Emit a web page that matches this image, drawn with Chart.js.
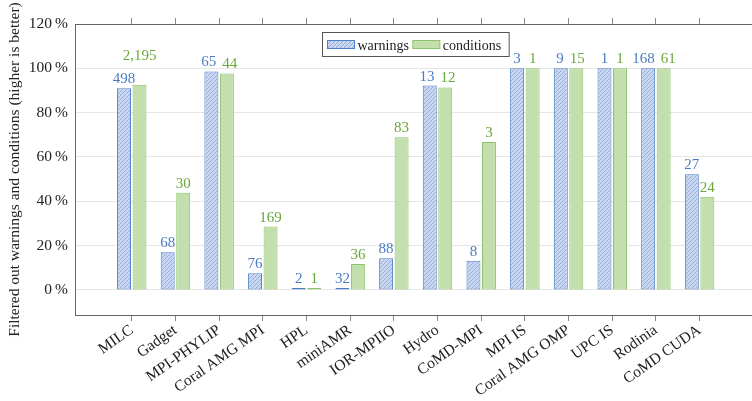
<!DOCTYPE html>
<html>
<head>
<meta charset="utf-8">
<script src="https://cdn.jsdelivr.net/npm/chart.js@4/dist/chart.umd.min.js"></script>
<style>
  html, body { margin: 0; padding: 0; background: #fff; }
  canvas { display: block; }
</style>
</head>
<body>
<canvas id="chart" width="752" height="401"></canvas>
<script>
// benchmark names along the x axis
const categories = ['MILC', 'Gadget', 'MPI-PHYLIP', 'Coral AMG MPI', 'HPL', 'miniAMR', 'IOR-MPIIO',
  'Hydro', 'CoMD-MPI', 'MPI IS', 'Coral AMG OMP', 'UPC IS', 'Rodinia', 'CoMD CUDA'];

// percentage filtered out (bar heights)
const warningsPct = [91.0, 17.0, 98.6, 7.5, 0.3, 0.3, 14.3, 92.2, 13.2, 100, 100, 100, 100, 52.2];
const conditionsPct = [92.6, 43.9, 97.7, 28.6, 0.3, 11.7, 68.9, 91.4, 66.8, 100, 100, 100, 100, 42.1];

// absolute counts printed on top of the bars
const warningsCount = ['498', '68', '65', '76', '2', '32', '88', '13', '8', '3', '9', '1', '168', '27'];
const conditionsCount = ['2,195', '30', '44', '169', '1', '36', '83', '12', '3', '1', '15', '1', '61', '24'];

const seriesNames = ['warnings', 'conditions'];
const yTicks = [0, 20, 40, 60, 80, 100, 120];

const FONT = '"Liberation Serif", "DejaVu Serif", serif';
const BLUE = '#4f7fc6', BLUE_TXT = '#4a7cc4';
const GREEN = '#8cc26b', GREEN_TXT = '#69a83c';

// hatched fill for the warnings bars
function makeHatch() {
    const c = document.createElement('canvas');
    c.width = 4; c.height = 4;
    const g = c.getContext('2d');
    g.fillStyle = '#cbd7ee';
    g.fillRect(0, 0, 4, 4);
    g.strokeStyle = '#93aedb';
    g.lineWidth = 1;
    g.beginPath();
    g.moveTo(-1, 5); g.lineTo(5, -1);
    g.moveTo(-1, 1); g.lineTo(1, -1);
    g.moveTo(3, 5); g.lineTo(5, 3);
    g.stroke();
    return g.createPattern(c, 'repeat');
}
const hatch = makeHatch();
const greenFill = '#c4dfae';

const toPoints = arr => arr.map((v, i) => ({ x: i, y: v }));
const catTicks = scale => { scale.ticks = categories.map((_, i) => ({ value: i })); };

// legend box inside the plot
const legendBox = {
    id: 'legendBox',
    afterDraw(chart) {
        const ctx = chart.ctx;
        const a = chart.chartArea;
        ctx.save();
        ctx.font = '14px ' + FONT;
        const sw = 27, sh = 8;
        const w1 = ctx.measureText(seriesNames[0]).width;
        const w2 = ctx.measureText(seriesNames[1]).width;
        const boxW = 5 + sw + 3 + w1 + 4 + sw + 3 + w2 + 8;
        const boxH = 24;
        const bx = Math.round((a.left + a.right) / 2 - boxW / 2) + 2.5;
        const by = a.top + 8.5;
        ctx.fillStyle = '#fff';
        ctx.fillRect(bx, by, boxW, boxH);
        ctx.strokeStyle = '#555';
        ctx.lineWidth = 1;
        ctx.strokeRect(bx, by, boxW, boxH);
        let x = bx + 5;
        const sy = by + 8;
        ctx.fillStyle = hatch;
        ctx.fillRect(x, sy, sw, sh);
        ctx.strokeStyle = BLUE;
        ctx.strokeRect(x, sy, sw, sh);
        x += sw + 3;
        ctx.fillStyle = '#222';
        ctx.textBaseline = 'alphabetic';
        ctx.fillText(seriesNames[0], x, by + 17);
        x += w1 + 4;
        ctx.fillStyle = greenFill;
        ctx.fillRect(x, sy, sw, sh);
        ctx.strokeStyle = GREEN;
        ctx.strokeRect(x, sy, sw, sh);
        x += sw + 3;
        ctx.fillStyle = '#222';
        ctx.fillText(seriesNames[1], x, by + 17);
        ctx.restore();
    }
};

// count labels above the bars
const countLabels = {
    id: 'countLabels',
    afterDatasetsDraw(chart) {
        const ctx = chart.ctx;
        const m0 = chart.getDatasetMeta(0).data;
        const m1 = chart.getDatasetMeta(1).data;
        ctx.save();
        ctx.font = '15px ' + FONT;
        ctx.textAlign = 'center';
        ctx.textBaseline = 'alphabetic';
        categories.forEach((_, i) => {
            const t0 = warningsCount[i], t1 = conditionsCount[i];
            const w0 = ctx.measureText(t0).width, w1 = ctx.measureText(t1).width;
            let x0 = m0[i].x, x1 = m1[i].x;
            let y0 = m0[i].y - 5, y1 = m1[i].y - 5;
            const overlap = (x0 + w0 / 2) - (x1 - w1 / 2) + 6;
            if (overlap > 0 && Math.abs(y0 - y1) < 12) {
                if (overlap <= 12) {
                    x0 -= overlap / 2;
                    x1 += overlap / 2;
                } else {
                    y1 = Math.min(y0, y1) - 20;
                }
            }
            ctx.fillStyle = BLUE_TXT;
            ctx.fillText(t0, x0, y0);
            ctx.fillStyle = GREEN_TXT;
            ctx.fillText(t1, x1, y1);
        });
        ctx.restore();
    }
};

const barStyle = {
    borderWidth: 1,
    borderSkipped: false,
    minBarLength: 2,
    categoryPercentage: 0.71,
    barPercentage: 0.9
};

new Chart(document.getElementById('chart'), {
    type: 'bar',
    data: {
        datasets: [
            Object.assign({
                label: seriesNames[0],
                data: toPoints(warningsPct),
                backgroundColor: hatch,
                borderColor: BLUE
            }, barStyle),
            Object.assign({
                label: seriesNames[1],
                data: toPoints(conditionsPct),
                backgroundColor: greenFill,
                borderColor: GREEN
            }, barStyle)
        ]
    },
    options: {
        responsive: false,
        animation: false,
        layout: { padding: 0 },
        plugins: {
            legend: { display: false },
            tooltip: { enabled: false }
        },
        scales: {
            x: {
                type: 'linear',
                position: 'bottom',
                offset: false,
                min: -1.3,
                max: 14.2,
                afterBuildTicks: catTicks,
                afterFit: s => { s.height = 86; },
                grid: { offset: false, drawOnChartArea: false, tickLength: 6, color: '#888' },
                border: { display: true, color: '#666' },
                ticks: {
                    autoSkip: false,
                    minRotation: 35,
                    maxRotation: 35,
                    padding: 0,
                    color: '#222',
                    font: { family: FONT, size: 15.5 },
                    callback: v => categories[v]
                }
            },
            xTop: {
                type: 'linear',
                axis: 'x',
                position: 'top',
                offset: false,
                min: -1.3,
                max: 14.2,
                afterBuildTicks: catTicks,
                afterFit: s => { s.height = 24; },
                grid: { offset: false, drawOnChartArea: false, tickLength: 6, color: '#888' },
                border: { display: true, color: '#666' },
                ticks: { display: false }
            },
            y: {
                min: -11.3,
                max: 120,
                afterBuildTicks: s => { s.ticks = yTicks.map(v => ({ value: v })); },
                afterFit: s => { s.width = 75; },
                grid: { color: '#e6e6e6', drawTicks: false },
                border: { display: true, color: '#666' },
                ticks: {
                    padding: 7,
                    color: '#222',
                    font: { family: FONT, size: 15.5 },
                    callback: v => v + '\u2009%'
                },
                title: {
                    display: true,
                    text: 'Filtered out warnings and conditions (higher is better)',
                    color: '#222',
                    font: { family: FONT, size: 15.5 },
                    padding: { top: 6, bottom: 0 }
                }
            }
        }
    },
    plugins: [countLabels, legendBox]
});
</script>
</body>
</html>
